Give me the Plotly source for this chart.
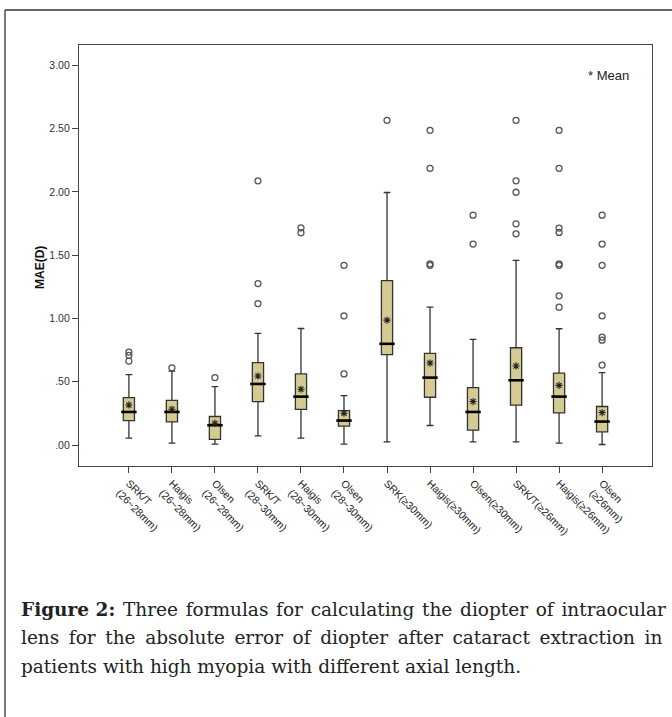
import plotly.graph_objects as go

categories = ["SRK/T<br>(26~28mm)", "Haigis<br>(26~28mm)", "Olsen<br>(26~28mm)",
              "SRK/T<br>(28~30mm)", "Haigis<br>(28~30mm)", "Olsen<br>(28~30mm)",
              "SRK(≥30mm)", "Haigis(≥30mm)", "Olsen(≥30mm)",
              "SRK/T(≥26mm)", "Haigis(≥26mm)", "Olsen<br>(≥26mm)"]

lower_whisker = [0.055, 0.016, 0.008, 0.073, 0.055, 0.008, 0.026, 0.155, 0.026, 0.026, 0.016, 0.005]
q1 = [0.194, 0.183, 0.045, 0.344, 0.283, 0.150, 0.714, 0.378, 0.118, 0.315, 0.254, 0.105]
median = [0.262, 0.262, 0.157, 0.483, 0.383, 0.194, 0.800, 0.533, 0.262, 0.512, 0.383, 0.186]
q3 = [0.375, 0.354, 0.226, 0.651, 0.562, 0.273, 1.299, 0.724, 0.454, 0.769, 0.569, 0.305]
upper_whisker = [0.557, 0.585, 0.462, 0.882, 0.921, 0.391, 1.995, 1.089, 0.835, 1.459, 0.919, 0.572]
means = [0.317, 0.283, 0.173, 0.546, 0.441, 0.252, 0.987, 0.648, 0.344, 0.625, 0.472, 0.257]

outliers = [
    [0.735, 0.709, 0.664],
    [0.610],
    [0.533],
    [2.087, 1.276, 1.118],
    [1.716, 1.677],
    [1.420, 1.021, 0.562],
    [2.565],
    [2.486, 2.186, 1.432, 1.420],
    [1.816, 1.588],
    [2.565, 2.087, 1.997, 1.748, 1.669],
    [2.486, 2.186, 1.714, 1.680, 1.432, 1.420, 1.179, 1.089],
    [1.816, 1.588, 1.420, 1.021, 0.853, 0.829, 0.632],
]

y_tickvals = [0, 0.5, 1.0, 1.5, 2.0, 2.5, 3.0]
y_ticktext = [".00", ".50", "1.00", "1.50", "2.00", "2.50", "3.00"]

caption_lines = [
    "<b>Figure 2:</b> Three formulas for calculating the diopter of intraocular",
    "lens for the absolute error of diopter after cataract extraction in",
    "patients with high myopia with different axial length.",
]
# extra inter-word spacing used to imitate the justified caption
caption_gap_pad = ["\u200a", "\u2009", ""]

fig = go.Figure()

fig.add_trace(go.Box(
    x=categories, q1=q1, median=median, q3=q3,
    lowerfence=lower_whisker, upperfence=upper_whisker,
    fillcolor="#d5cb92", line=dict(color="#333333", width=1.3),
    width=0.26, whiskerwidth=0.6, boxpoints=False, hoverinfo="skip",
    showlegend=False,
))

fig.add_trace(go.Scatter(
    x=categories, y=median, mode="markers",
    marker=dict(symbol="line-ew", size=11, color="black",
                line=dict(color="black", width=2.6)),
    hoverinfo="skip", showlegend=False,
))

fig.add_trace(go.Scatter(
    x=categories, y=means, mode="markers",
    marker=dict(symbol="asterisk-open", size=6, color="#222222",
                line=dict(color="#222222", width=1.1)),
    hoverinfo="skip", showlegend=False,
))

ox, oy = [], []
for c, vals in zip(categories, outliers):
    for v in vals:
        ox.append(c)
        oy.append(v)
fig.add_trace(go.Scatter(
    x=ox, y=oy, mode="markers",
    marker=dict(symbol="circle-open", size=6, color="#555555", line=dict(width=1.3)),
    hoverinfo="skip", showlegend=False,
))

L, R, T, B = 79, 652, 45, 466
W, H = 672, 717

def px(x):
    return (x - L) / (R - L)

def py(y):
    return (B - y) / (B - T)

annotations = [
    dict(text="<b>MAE(D)</b>", x=px(40), y=py(268), xref="paper", yref="paper",
         textangle=-90, showarrow=False,
         font=dict(family="Liberation Sans", size=12, color="#111111"),
         xanchor="center", yanchor="middle"),
    dict(text="* Mean", x=px(586), y=py(75), xref="paper", yref="paper",
         showarrow=False, xanchor="left", yanchor="middle",
         font=dict(family="Liberation Sans", size=13, color="#222222")),
]
for i, (line, pad) in enumerate(zip(caption_lines, caption_gap_pad)):
    if pad:
        parts = line.split("</b> ")
        head = parts[0] + "</b> " if len(parts) > 1 else ""
        body = parts[-1]
        line = (head + pad if head else "") + (" " + pad).join(body.split(" "))
    annotations.append(dict(
        text=line, x=px(19), y=py(609 + 28.5 * i), xref="paper", yref="paper",
        showarrow=False, xanchor="left", yanchor="middle",
        font=dict(family="DejaVu Serif", size=18.5, color="#222222")))

fig.update_layout(
    width=W, height=H,
    margin=dict(l=L, r=W - R, t=T, b=H - B),
    paper_bgcolor="white", plot_bgcolor="white",
    annotations=annotations,
    shapes=[
        dict(type="line", xref="paper", yref="paper", x0=px(5), x1=px(5),
             y0=py(H + 5), y1=py(10), line=dict(color="#333333", width=1.3)),
        dict(type="line", xref="paper", yref="paper", x0=px(5), x1=px(W + 5),
             y0=py(10), y1=py(10), line=dict(color="#333333", width=1.3)),
    ],
)

fig.update_xaxes(
    range=[-1.16, 12.16], showline=True, mirror=True, linecolor="#444444",
    linewidth=1.2, ticks="outside", ticklen=6, tickcolor="#444444", showgrid=False,
    tickangle=45, tickfont=dict(family="Liberation Sans", size=10.5, color="#222222"),
)
fig.update_yaxes(
    range=[-0.165, 3.16], tickvals=y_tickvals, ticktext=y_ticktext,
    showline=True, mirror=True, linecolor="#444444", linewidth=1.2,
    ticks="outside", ticklen=6, tickcolor="#444444", showgrid=False, zeroline=False,
    tickfont=dict(family="Liberation Sans", size=10.5, color="#333333"),
)

fig.write_html("out.html", config={"displayModeBar": False},
               post_script="document.body.style.margin='0';document.body.style.overflow='hidden';")
